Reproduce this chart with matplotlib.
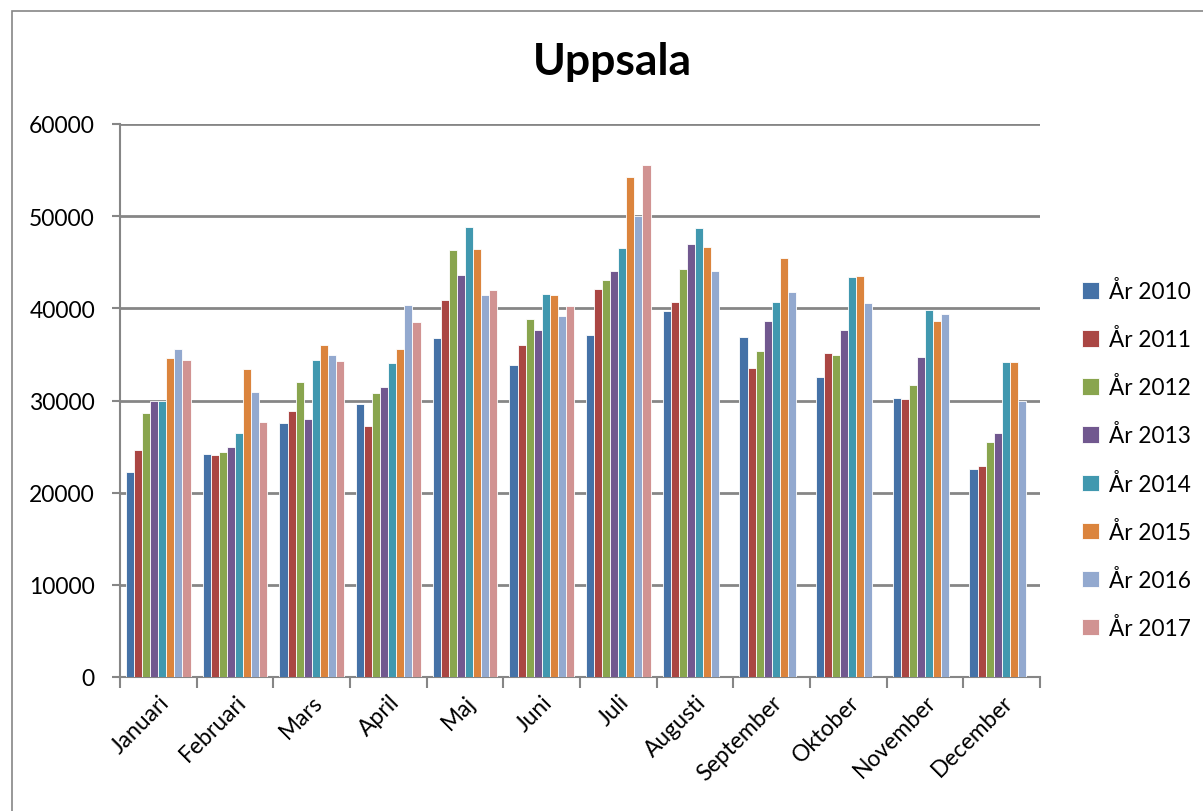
import numpy as np
import matplotlib
matplotlib.use("Agg")
import matplotlib.pyplot as plt
from matplotlib.patches import Rectangle

plt.rcParams['font.family'] = ['Lato', 'DejaVu Sans']

months = ["Januari", "Februari", "Mars", "April", "Maj", "Juni", "Juli",
          "Augusti", "September", "Oktober", "November", "December"]
series_names = ["År 2010", "År 2011", "År 2012", "År 2013",
                "År 2014", "År 2015", "År 2016", "År 2017"]
nan = np.nan
y2010 = [22200, 24200, 27600, 29600, 36800, 33800, 37100, 39700, 36900, 32500, 30300, 22600]
y2011 = [24600, 24100, 28900, 27200, 40900, 36000, 42100, 40700, 33500, 35200, 30200, 22900]
y2012 = [28600, 24400, 32000, 30800, 46300, 38800, 43100, 44300, 35400, 34900, 31700, 25500]
y2013 = [29900, 25000, 28000, 31500, 43600, 37700, 44100, 47000, 38600, 37700, 34700, 26500]
y2014 = [30000, 26500, 34400, 34100, 48800, 41600, 46500, 48700, 40700, 43400, 39800, 34200]
y2015 = [34600, 33400, 36000, 35600, 46400, 41500, 54200, 46700, 45500, 43500, 38600, 34200]
y2016 = [35600, 30900, 34900, 40400, 41400, 39200, 50000, 44100, 41800, 40600, 39400, 30000]
y2017 = [34400, 27700, 34300, 38500, 42000, 40300, 55500, nan, nan, nan, nan, nan]
series = [y2010, y2011, y2012, y2013, y2014, y2015, y2016, y2017]
colors = ["#4572A7", "#AA4643", "#89A54E", "#71588F",
          "#4198AF", "#DB843D", "#93A9CF", "#D19392"]

fig = plt.figure(figsize=(12.03, 8.12), dpi=100)
fig.patches.append(Rectangle((12/1203, -0.05), 1.1, 1 - 12/812 + 0.05,
                             transform=fig.transFigure, fill=False,
                             edgecolor="#868686", linewidth=1.2))
ax = fig.add_axes([120/1203, 1 - 678/812, 920/1203, 553/812])

x = np.arange(len(months))
n = len(series)
bw = 0.105
for i, (vals, c, name) in enumerate(zip(series, colors, series_names)):
    offs = (i - (n - 1) / 2) * bw
    ax.bar(x + offs, vals, width=bw, color=c, edgecolor="white",
           linewidth=0.6, label=name, zorder=3)

ax.set_xlim(-0.5, len(months) - 0.5)
ax.set_ylim(0, 60000)
ax.set_yticks(np.arange(0, 60001, 10000))
ax.yaxis.grid(True, color="#868686", linewidth=2, zorder=0)
ax.set_axisbelow(True)
for s in ["top", "right"]:
    ax.spines[s].set_visible(False)
for s in ["left", "bottom"]:
    ax.spines[s].set_color("#868686")
    ax.spines[s].set_linewidth(1.5)

ax.set_xticks(x)
ax.set_xticks(np.arange(-0.5, len(months), 1.0), minor=True)
ax.tick_params(axis='x', which='major', length=0, pad=10)
ax.tick_params(axis='x', which='minor', length=8, width=1.5, color="#868686")
ax.tick_params(axis='y', length=6, width=1.5, color="#868686", labelsize=16.5, pad=12)
ax.set_xticklabels(months, rotation=45, ha='right', rotation_mode='anchor',
                   fontsize=16.5)

fig.text(612/1203, 1 - 62/812, "Uppsala", ha='center', va='center',
         fontsize=32, fontweight='bold')

fig.legend(loc='upper left', bbox_to_anchor=(1062/1203, 1 - 261/812),
           frameon=False, fontsize=16.3, handlelength=0.72, handleheight=0.72,
           handletextpad=0.45, labelspacing=1.15)

fig.savefig("out.png", dpi=100)
